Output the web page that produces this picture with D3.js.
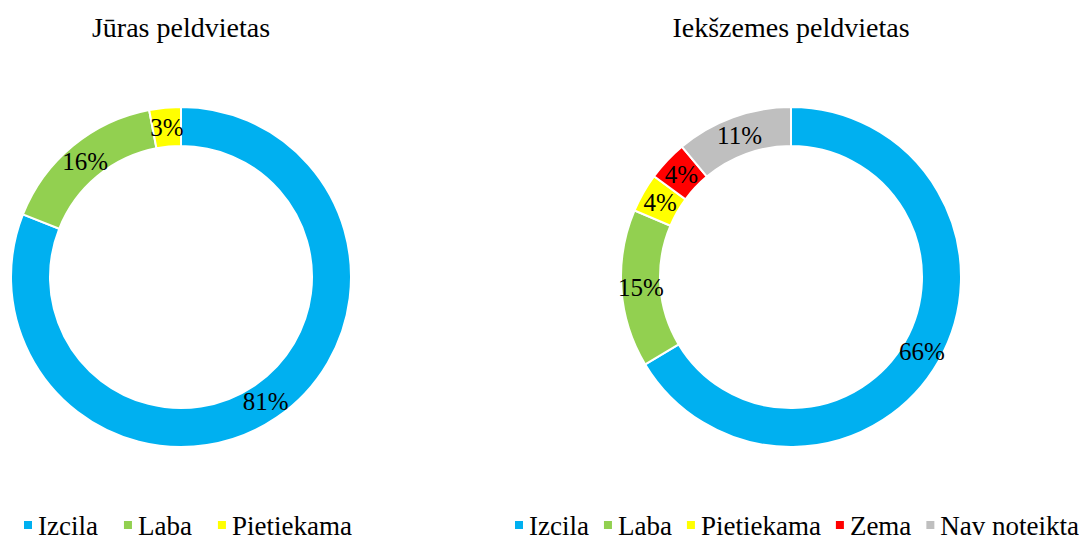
<!DOCTYPE html>
<html>
<head>
<meta charset="utf-8">
<script src="https://cdn.jsdelivr.net/npm/d3@7"></script>
<style>
  body { margin: 0; background: #fff; }
  text { font-family: "Liberation Serif", "Times New Roman", serif; fill: #000; }
</style>
</head>
<body>
<svg id="chart" width="1079" height="541"></svg>
<script>
const titles = ["Jūras peldvietas", "Iekšzemes peldvietas"];
const catsSea = ["Izcila", "Laba", "Pietiekama"];
const valsSea = [81.0, 16.0, 3.0];
const catsInland = ["Izcila", "Laba", "Pietiekama", "Zema", "Nav noteikta"];
const valsInland = [66.4, 15.0, 3.7, 3.8, 11.1];
const colors = {
  "Izcila": "#00B0F0",
  "Laba": "#92D050",
  "Pietiekama": "#FFFF00",
  "Zema": "#FF0000",
  "Nav noteikta": "#BFBFBF"
};

const svg = d3.select("#chart");
const outerR = 170, innerR = 131;

const charts = [
  {title: titles[0], cats: catsSea, vals: valsSea, cx: 181, cy: 277, legendX: 24, gap: 26},
  {title: titles[1], cats: catsInland, vals: valsInland, cx: 791, cy: 277, legendX: 515, gap: 15}
];

const pie = d3.pie().sort(null).value(d => d.v);
const arc = d3.arc().innerRadius(innerR).outerRadius(outerR);

charts.forEach(c => {
  const data = c.cats.map((k, i) => ({k, v: c.vals[i]}));
  const total = d3.sum(c.vals);

  svg.append("text")
     .attr("x", c.cx)
     .attr("y", 37)
     .attr("text-anchor", "middle")
     .style("font-size", "28px")
     .text(c.title);

  const g = svg.append("g")
               .attr("transform", `translate(${c.cx},${c.cy})`);

  const arcs = pie(data);

  g.selectAll("path")
   .data(arcs)
   .enter()
   .append("path")
   .attr("d", arc)
   .attr("fill", d => colors[d.data.k])
   .attr("stroke", "#fff")
   .attr("stroke-width", 2);

  g.selectAll(".lbl")
   .data(arcs)
   .enter()
   .append("text")
   .attr("class", "lbl")
   .attr("transform", d => `translate(${arc.centroid(d)})`)
   .attr("text-anchor", "middle")
   .attr("dy", "0.35em")
   .style("font-size", "25px")
   .text(d => Math.round(d.data.v / total * 100) + "%");

  // legend
  const lg = svg.append("g");
  let x = c.legendX;
  c.cats.forEach(k => {
    lg.append("rect")
      .attr("x", x)
      .attr("y", 521)
      .attr("width", 8)
      .attr("height", 8)
      .attr("fill", colors[k]);
    const t = lg.append("text")
      .attr("x", x + 14)
      .attr("y", 535)
      .style("font-size", "27px")
      .text(k);
    x = x + 14 + t.node().getComputedTextLength() + c.gap;
  });
});
</script>
</body>
</html>
